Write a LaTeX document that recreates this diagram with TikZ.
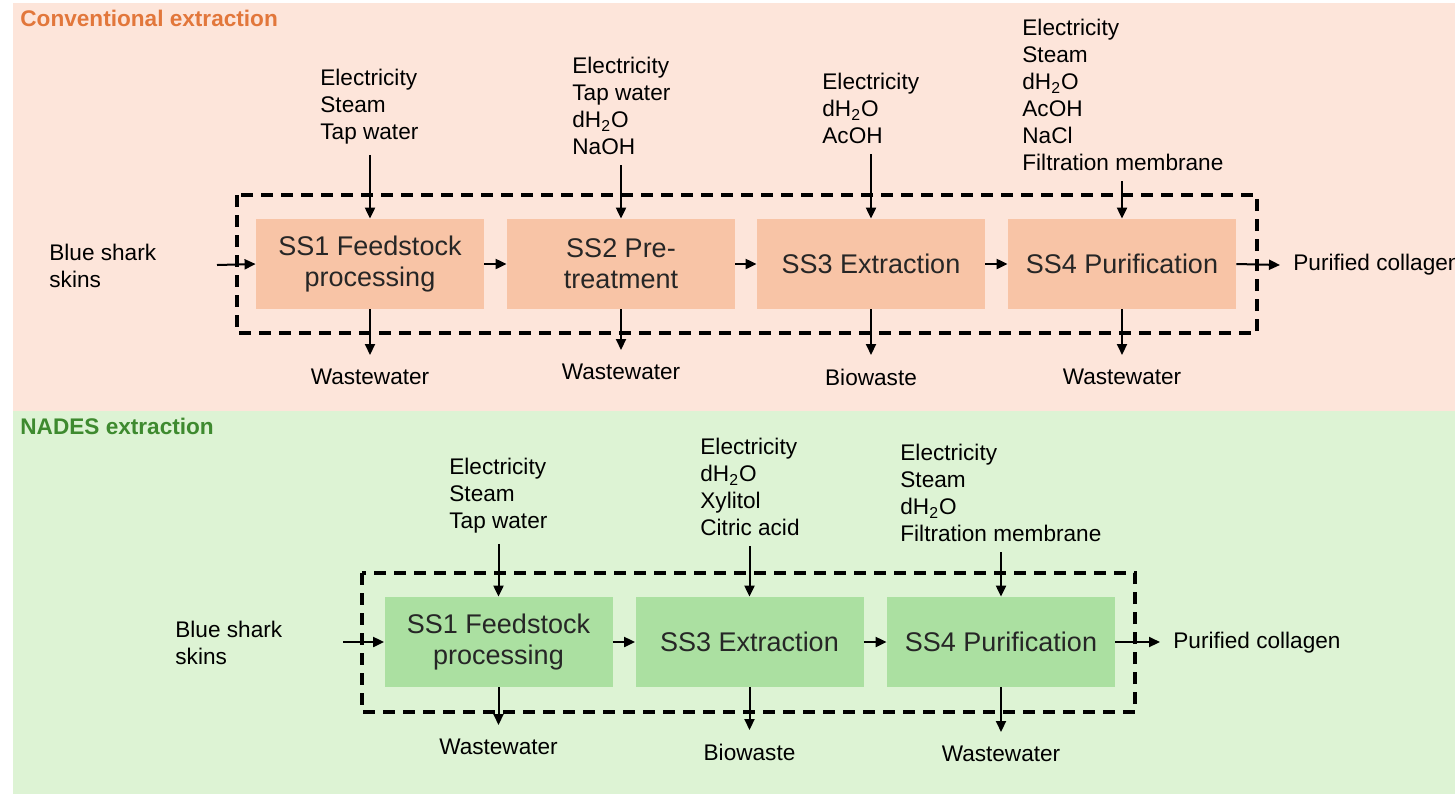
\documentclass[tikz,border=0pt]{standalone}
\usepackage{fontspec}
\setmainfont{Liberation Sans}
\usetikzlibrary{arrows.meta,positioning}

\definecolor{convbg}{HTML}{FDE5DA}
\definecolor{convbox}{HTML}{F8C4A6}
\definecolor{convtitle}{HTML}{E2773B}
\definecolor{nadesbg}{HTML}{DDF3D4}
\definecolor{nadesbox}{HTML}{ABE0A1}
\definecolor{nadestitle}{HTML}{3E8A2F}

\begin{document}
\begin{tikzpicture}[x=0.5pt, y=-0.5pt,
    stage/.style={rectangle, minimum width=114pt, minimum height=45pt, align=center,
        inner sep=2pt, text=black!85, font=\fontsize{13.5}{15.5}\selectfont},
    inputs/.style={anchor=north west, align=left, inner sep=0pt, font=\fontsize{11.3}{13.5}\selectfont},
    outputs/.style={anchor=north, inner sep=0pt, font=\fontsize{11.3}{13.5}\selectfont},
    ends/.style={align=left, inner sep=0pt, font=\fontsize{11.3}{13.5}\selectfont},
    flow/.style={-{Triangle[length=5.5pt,width=5pt]}, line width=1pt},
    feed/.style={flow, shorten <=5pt},
    waste/.style={flow, shorten >=7pt},
    system/.style={draw, dash pattern=on 6pt off 4pt, line width=1.6pt},
    paneltitle/.style={anchor=west, inner sep=0pt, font=\fontsize{11.3}{13}\selectfont\bfseries}]

\useasboundingbox (0,0) rectangle (1455,794);

% panels
\fill[convbg] (13,3) rectangle (1455,411);
\fill[nadesbg] (13,411) rectangle (1455,794);
\node[paneltitle, text=convtitle] (convtitle) at (20,18) {Conventional extraction};
\node[paneltitle, text=nadestitle] (nadestitle) at (20,426) {NADES extraction};

% conventional extraction
\draw[system] (237,195) rectangle (1257,333);

\node[stage, fill=convbox] (cSSone) at (370,264) {SS1 Feedstock\\processing};
\node[stage, fill=convbox] (cSStwo) at (621,264) {SS2 Pre-\\treatment};
\node[stage, fill=convbox] (cSSthree) at (871,264) {SS3 Extraction};
\node[stage, fill=convbox] (cSSfour) at (1122,264) {SS4 Purification};

\node[inputs] (cINone) at (320,69) {Electricity\\Steam\\Tap water};
\node[inputs] (cINtwo) at (572,57) {Electricity\\Tap water\\dH\textsubscript{2}O\\NaOH};
\node[inputs] (cINthree) at (822,73) {Electricity\\dH\textsubscript{2}O\\AcOH};
\node[inputs] (cINfour) at (1022,19) {Electricity\\Steam\\dH\textsubscript{2}O\\AcOH\\NaCl\\Filtration membrane};

\node[outputs] (cOUTone) at (370,369) {Wastewater};
\node[outputs] (cOUTtwo) at (621,364) {Wastewater};
\node[outputs] (cOUTthree) at (871,369) {Biowaste};
\node[outputs] (cOUTfour) at (1122,369) {Wastewater};

\node[ends, anchor=north west] (cshark) at (49,244) {Blue shark\\skins};
\node[ends, anchor=west] (ccollagen) at (1293,265) {Purified collagen};
\coordinate (cfeed) at (217,265);
\coordinate (cprod) at (1280,265);

\draw[feed] (cINone.south -| cSSone.north) -- (cSSone.north);
\draw[feed] (cINtwo.south -| cSStwo.north) -- (cSStwo.north);
\draw[feed] (cINthree.south -| cSSthree.north) -- (cSSthree.north);
\draw[feed] (cINfour.south -| cSSfour.north) -- (cSSfour.north);
\draw[waste] (cSSone.south) -- (cOUTone.north);
\draw[waste] (cSStwo.south) -- (cOUTtwo.north);
\draw[waste] (cSSthree.south) -- (cOUTthree.north);
\draw[waste] (cSSfour.south) -- (cOUTfour.north);
\draw[flow] (cfeed) -- (cSSone.west);
\draw[flow] (cSSone.east) -- (cSStwo.west);
\draw[flow] (cSStwo.east) -- (cSSthree.west);
\draw[flow] (cSSthree.east) -- (cSSfour.west);
\draw[flow] (cSSfour.east) -- (cprod);

% NADES extraction
\draw[system] (362,573) rectangle (1135,712);

\node[stage, fill=nadesbox] (nSSone) at (498.5,642) {SS1 Feedstock\\processing};
\node[stage, fill=nadesbox] (nSSthree) at (749.5,642) {SS3 Extraction};
\node[stage, fill=nadesbox] (nSSfour) at (1001,642) {SS4 Purification};

\node[inputs] (nINone) at (449,458) {Electricity\\Steam\\Tap water};
\node[inputs] (nINthree) at (700,438) {Electricity\\dH\textsubscript{2}O\\Xylitol\\Citric acid};
\node[inputs] (nINfour) at (900,444) {Electricity\\Steam\\dH\textsubscript{2}O\\Filtration membrane};

\node[outputs] (nOUTone) at (498.5,739) {Wastewater};
\node[outputs] (nOUTthree) at (749.5,744) {Biowaste};
\node[outputs] (nOUTfour) at (1001,746) {Wastewater};

\node[ends, anchor=north west] (nshark) at (175,621) {Blue shark\\skins};
\node[ends, anchor=west] (ncollagen) at (1173,643) {Purified collagen};
\coordinate (nfeed) at (343,642);
\coordinate (nprod) at (1160,642);

\draw[feed] (nINone.south -| nSSone.north) -- (nSSone.north);
\draw[feed] (nINthree.south -| nSSthree.north) -- (nSSthree.north);
\draw[feed] (nINfour.south -| nSSfour.north) -- (nSSfour.north);
\draw[waste] (nSSone.south) -- (nOUTone.north);
\draw[waste] (nSSthree.south) -- (nOUTthree.north);
\draw[waste] (nSSfour.south) -- (nOUTfour.north);
\draw[flow] (nfeed) -- (nSSone.west);
\draw[flow] (nSSone.east) -- (nSSthree.west);
\draw[flow] (nSSthree.east) -- (nSSfour.west);
\draw[flow] (nSSfour.east) -- (nprod);
\end{tikzpicture}
\end{document}
